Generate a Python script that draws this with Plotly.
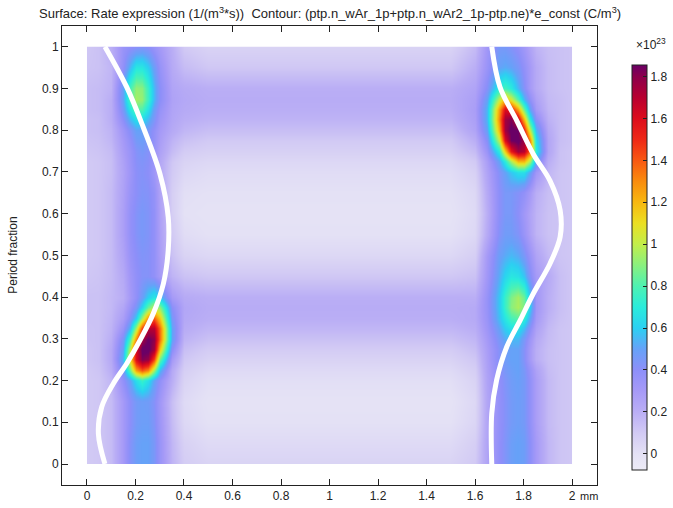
import plotly.graph_objects as go

# ---- data (values in units of 1e23 1/(m^3*s)) ----
x_mm = [0, 0.05, 0.1, 0.15, 0.175, 0.2, 0.225, 0.25, 0.275, 0.3, 0.35, 0.4, 0.5, 0.75, 1.0, 1.25, 1.5,
        1.6, 1.65, 1.7, 1.725, 1.75, 1.775, 1.8, 1.825, 1.85, 1.9, 1.95, 2.0]
y_frac = [0, 0.05, 0.1, 0.15, 0.2, 0.225, 0.25, 0.275, 0.3, 0.325, 0.35, 0.375, 0.4, 0.45, 0.5, 0.55,
          0.6, 0.65, 0.7, 0.725, 0.75, 0.775, 0.8, 0.825, 0.85, 0.875, 0.9, 0.95, 1.0]

rate = [
    [0.10, 0.11, 0.15, 0.30, 0.42, 0.48, 0.50, 0.50, 0.45, 0.35, 0.18, 0.09, 0.06, 0.06, 0.06, 0.06, 0.06, 0.10, 0.25, 0.38, 0.43, 0.48, 0.50, 0.48, 0.40, 0.30, 0.17, 0.12, 0.11],
    [0.10, 0.11, 0.15, 0.30, 0.42, 0.48, 0.50, 0.50, 0.45, 0.35, 0.17, 0.07, 0.03, 0.03, 0.03, 0.03, 0.03, 0.08, 0.25, 0.38, 0.43, 0.48, 0.50, 0.48, 0.40, 0.30, 0.17, 0.12, 0.11],
    [0.10, 0.11, 0.15, 0.30, 0.40, 0.46, 0.48, 0.48, 0.43, 0.33, 0.15, 0.04, 0.00, 0.00, 0.00, 0.00, 0.00, 0.05, 0.24, 0.37, 0.42, 0.46, 0.48, 0.46, 0.38, 0.28, 0.16, 0.12, 0.11],
    [0.10, 0.11, 0.15, 0.30, 0.40, 0.46, 0.48, 0.47, 0.42, 0.32, 0.14, 0.03, -0.01, -0.01, -0.01, -0.01, -0.01, 0.04, 0.24, 0.37, 0.42, 0.46, 0.48, 0.46, 0.38, 0.28, 0.16, 0.12, 0.11],
    [0.10, 0.11, 0.17, 0.38, 0.50, 0.65, 0.75, 0.65, 0.50, 0.38, 0.20, 0.06, 0.01, 0.01, 0.01, 0.01, 0.01, 0.06, 0.25, 0.38, 0.43, 0.47, 0.49, 0.46, 0.38, 0.28, 0.16, 0.12, 0.11],
    [0.10, 0.12, 0.20, 0.45, 0.85, 1.25, 1.40, 1.30, 0.95, 0.55, 0.22, 0.08, 0.03, 0.03, 0.03, 0.03, 0.03, 0.08, 0.26, 0.40, 0.45, 0.48, 0.50, 0.45, 0.36, 0.26, 0.15, 0.12, 0.11],
    [0.11, 0.13, 0.22, 0.55, 1.10, 1.60, 1.82, 1.78, 1.45, 0.85, 0.30, 0.11, 0.06, 0.06, 0.06, 0.06, 0.06, 0.11, 0.27, 0.42, 0.47, 0.50, 0.50, 0.42, 0.30, 0.20, 0.14, 0.12, 0.11],
    [0.11, 0.13, 0.22, 0.50, 1.00, 1.60, 1.88, 1.88, 1.75, 1.15, 0.40, 0.14, 0.09, 0.09, 0.09, 0.09, 0.09, 0.14, 0.28, 0.42, 0.47, 0.50, 0.50, 0.42, 0.30, 0.20, 0.14, 0.12, 0.11],
    [0.12, 0.13, 0.20, 0.45, 0.80, 1.30, 1.75, 1.86, 1.80, 1.35, 0.50, 0.18, 0.13, 0.13, 0.13, 0.13, 0.13, 0.17, 0.30, 0.45, 0.52, 0.55, 0.55, 0.45, 0.33, 0.22, 0.15, 0.12, 0.11],
    [0.12, 0.13, 0.18, 0.35, 0.55, 0.95, 1.45, 1.70, 1.70, 1.35, 0.50, 0.21, 0.17, 0.17, 0.17, 0.17, 0.17, 0.20, 0.33, 0.50, 0.60, 0.66, 0.66, 0.56, 0.40, 0.26, 0.16, 0.12, 0.11],
    [0.13, 0.13, 0.17, 0.28, 0.42, 0.60, 0.95, 1.30, 1.40, 1.15, 0.45, 0.23, 0.20, 0.20, 0.20, 0.20, 0.20, 0.22, 0.35, 0.56, 0.68, 0.78, 0.82, 0.72, 0.50, 0.30, 0.18, 0.13, 0.11],
    [0.13, 0.13, 0.16, 0.24, 0.35, 0.45, 0.62, 0.85, 1.00, 0.90, 0.40, 0.24, 0.21, 0.21, 0.21, 0.21, 0.21, 0.22, 0.36, 0.58, 0.75, 0.90, 0.96, 0.88, 0.60, 0.32, 0.20, 0.14, 0.11],
    [0.13, 0.13, 0.16, 0.20, 0.30, 0.38, 0.48, 0.60, 0.68, 0.58, 0.30, 0.22, 0.20, 0.20, 0.20, 0.20, 0.20, 0.20, 0.36, 0.58, 0.75, 0.88, 0.95, 0.85, 0.58, 0.32, 0.20, 0.14, 0.11],
    [0.11, 0.12, 0.15, 0.22, 0.32, 0.38, 0.42, 0.42, 0.38, 0.30, 0.18, 0.13, 0.11, 0.11, 0.11, 0.11, 0.11, 0.13, 0.32, 0.52, 0.62, 0.68, 0.66, 0.58, 0.42, 0.30, 0.22, 0.14, 0.11],
    [0.10, 0.11, 0.15, 0.25, 0.35, 0.40, 0.43, 0.42, 0.38, 0.28, 0.13, 0.06, 0.04, 0.04, 0.04, 0.04, 0.04, 0.08, 0.30, 0.48, 0.52, 0.55, 0.52, 0.45, 0.35, 0.25, 0.16, 0.12, 0.11],
    [0.10, 0.11, 0.15, 0.27, 0.37, 0.42, 0.45, 0.43, 0.38, 0.27, 0.10, 0.02, 0.00, 0.00, 0.00, 0.00, 0.00, 0.04, 0.22, 0.42, 0.47, 0.47, 0.43, 0.35, 0.26, 0.18, 0.13, 0.12, 0.11],
    [0.10, 0.11, 0.15, 0.27, 0.37, 0.42, 0.45, 0.43, 0.38, 0.26, 0.08, 0.00, -0.01, -0.01, -0.01, -0.01, -0.01, 0.03, 0.20, 0.40, 0.45, 0.45, 0.40, 0.32, 0.25, 0.18, 0.13, 0.12, 0.11],
    [0.10, 0.11, 0.15, 0.26, 0.35, 0.40, 0.43, 0.42, 0.37, 0.25, 0.08, 0.01, 0.00, 0.00, 0.00, 0.00, 0.00, 0.04, 0.22, 0.40, 0.45, 0.45, 0.42, 0.38, 0.30, 0.20, 0.14, 0.12, 0.11],
    [0.10, 0.11, 0.14, 0.25, 0.33, 0.40, 0.42, 0.40, 0.33, 0.22, 0.10, 0.04, 0.02, 0.02, 0.02, 0.02, 0.02, 0.07, 0.25, 0.42, 0.50, 0.58, 0.65, 0.65, 0.50, 0.32, 0.17, 0.12, 0.11],
    [0.10, 0.11, 0.14, 0.26, 0.34, 0.41, 0.43, 0.41, 0.34, 0.23, 0.11, 0.06, 0.04, 0.04, 0.04, 0.04, 0.04, 0.10, 0.28, 0.50, 0.70, 0.95, 1.20, 1.20, 0.95, 0.50, 0.20, 0.13, 0.11],
    [0.11, 0.12, 0.15, 0.28, 0.35, 0.42, 0.45, 0.42, 0.35, 0.26, 0.15, 0.09, 0.07, 0.07, 0.07, 0.07, 0.07, 0.15, 0.35, 0.70, 1.15, 1.55, 1.75, 1.70, 1.35, 0.70, 0.24, 0.13, 0.11],
    [0.12, 0.13, 0.17, 0.30, 0.38, 0.46, 0.48, 0.44, 0.37, 0.28, 0.18, 0.13, 0.10, 0.10, 0.10, 0.10, 0.10, 0.20, 0.42, 1.00, 1.60, 1.85, 1.88, 1.75, 1.30, 0.65, 0.24, 0.14, 0.12],
    [0.13, 0.14, 0.18, 0.33, 0.42, 0.50, 0.50, 0.45, 0.38, 0.30, 0.22, 0.17, 0.14, 0.14, 0.14, 0.14, 0.14, 0.25, 0.50, 1.20, 1.75, 1.88, 1.85, 1.55, 1.00, 0.55, 0.22, 0.14, 0.12],
    [0.13, 0.14, 0.20, 0.40, 0.55, 0.65, 0.64, 0.55, 0.44, 0.33, 0.24, 0.20, 0.18, 0.18, 0.18, 0.18, 0.18, 0.27, 0.55, 1.30, 1.75, 1.82, 1.65, 1.20, 0.70, 0.40, 0.19, 0.14, 0.12],
    [0.14, 0.15, 0.20, 0.46, 0.68, 0.82, 0.80, 0.66, 0.48, 0.36, 0.25, 0.22, 0.20, 0.20, 0.20, 0.20, 0.20, 0.28, 0.55, 1.25, 1.60, 1.55, 1.25, 0.85, 0.50, 0.30, 0.17, 0.14, 0.12],
    [0.14, 0.15, 0.20, 0.50, 0.80, 0.95, 0.92, 0.76, 0.55, 0.40, 0.26, 0.23, 0.21, 0.21, 0.21, 0.21, 0.21, 0.27, 0.50, 1.00, 1.20, 1.05, 0.80, 0.55, 0.38, 0.26, 0.16, 0.14, 0.12],
    [0.14, 0.15, 0.18, 0.50, 0.78, 0.92, 0.90, 0.75, 0.55, 0.40, 0.25, 0.22, 0.20, 0.20, 0.20, 0.20, 0.20, 0.25, 0.42, 0.70, 0.78, 0.70, 0.55, 0.42, 0.30, 0.22, 0.15, 0.13, 0.12],
    [0.12, 0.13, 0.17, 0.38, 0.55, 0.68, 0.68, 0.60, 0.48, 0.36, 0.22, 0.15, 0.11, 0.11, 0.11, 0.11, 0.11, 0.20, 0.35, 0.50, 0.52, 0.50, 0.45, 0.38, 0.30, 0.22, 0.15, 0.13, 0.12],
    [0.11, 0.13, 0.20, 0.35, 0.38, 0.40, 0.42, 0.40, 0.35, 0.30, 0.20, 0.10, 0.06, 0.06, 0.06, 0.06, 0.06, 0.15, 0.32, 0.45, 0.45, 0.42, 0.38, 0.32, 0.25, 0.18, 0.14, 0.13, 0.12],
]

# contour line (white), left and right branches
left_x = [0.074, 0.164, 0.232, 0.301, 0.335, 0.335, 0.315, 0.273, 0.219, 0.164, 0.109, 0.061, 0.047, 0.074]
left_y = [1.0, 0.903, 0.807, 0.695, 0.592, 0.512, 0.432, 0.360, 0.297, 0.241, 0.193, 0.137, 0.073, 0.0]
right_x = [1.669, 1.703, 1.772, 1.840, 1.909, 1.951, 1.951, 1.909, 1.840, 1.786, 1.731, 1.689, 1.669, 1.669]
right_y = [1.0, 0.903, 0.823, 0.743, 0.679, 0.608, 0.544, 0.480, 0.408, 0.344, 0.281, 0.201, 0.121, 0.0]

x_ticks = [0, 0.2, 0.4, 0.6, 0.8, 1, 1.2, 1.4, 1.6, 1.8, 2]
y_ticks = [0, 0.1, 0.2, 0.3, 0.4, 0.5, 0.6, 0.7, 0.8, 0.9, 1]
cbar_ticks = [0, 0.2, 0.4, 0.6, 0.8, 1, 1.2, 1.4, 1.6, 1.8]

title_text = ("Surface: Rate expression (1/(m<sup>3</sup>*s))  "
              "Contour: (ptp.n_wAr_1p+ptp.n_wAr2_1p-ptp.ne)*e_const (C/m<sup>3</sup>)")

c_min, c_max = -0.077, 1.855
scale_vals = [-0.077, 0.0, 0.1, 0.2, 0.3, 0.4, 0.5, 0.6, 0.7, 0.8, 0.9, 1.0, 1.1, 1.2, 1.3, 1.4, 1.5, 1.6, 1.7, 1.8, 1.855]
scale_cols = ["#ecebf6", "#e4e1f5", "#d2caf4", "#baaef5", "#a69af7", "#8d8ff9", "#66a2f8", "#2cd0f2",
              "#2aecdc", "#4ef2b2", "#8af07e", "#c2ee4a", "#ebdf22", "#f8b810", "#f98c0e", "#f85812",
              "#ee2816", "#dc0c1c", "#b80030", "#8c004c", "#6a0066"]
colorscale = [[(v - c_min) / (c_max - c_min), c] for v, c in zip(scale_vals, scale_cols)]

FONT = "Liberation Sans"

fig = go.Figure()
fig.add_trace(go.Heatmap(
    x=x_mm, y=y_frac, z=rate, zsmooth="best", colorscale=colorscale,
    zmin=c_min, zmax=c_max, hoverinfo="skip",
    colorbar=dict(
        thickness=15, len=425, lenmode="pixels",
        x=1.0467, xanchor="left", y=0.4739, yanchor="middle",
        outlinecolor="#222", outlinewidth=1,
        tickvals=cbar_ticks, ticktext=[f"{t:g}" for t in cbar_ticks],
        ticks="inside", ticklen=4, tickcolor="#222",
        tickfont=dict(family=FONT, size=12, color="#222"),
    ),
))
for xs, ys in ((left_x, left_y), (right_x, right_y)):
    fig.add_trace(go.Scatter(x=xs, y=ys, mode="lines",
                             line=dict(color="white", width=5, shape="spline", smoothing=1.0),
                             hoverinfo="skip", showlegend=False))

# white masks trimming the half-cell overshoot of the smoothed image to the 0..2 x 0..1 domain
mask = dict(type="rect", xref="x", yref="y", fillcolor="white", line=dict(width=0), layer="above")
shapes = [
    dict(mask, x0=-0.035, x1=0, y0=-0.035, y1=1.035),
    dict(mask, x0=2, x1=2.035, y0=-0.035, y1=1.035),
    dict(mask, x0=-0.035, x1=2.035, y0=-0.035, y1=0),
    dict(mask, x0=-0.035, x1=2.035, y0=1, y1=1.035),
]

axis_common = dict(showline=True, linecolor="#222", linewidth=1, mirror="ticks", ticks="inside",
                   ticklen=6, tickcolor="#222", showgrid=False, zeroline=False,
                   tickfont=dict(family=FONT, size=12, color="#222"))
fig.update_xaxes(range=[-0.103, 2.103], tickvals=x_ticks, ticktext=[f"{t:g}" for t in x_ticks], **axis_common)
fig.update_yaxes(range=[-0.0503, 1.0496], tickvals=y_ticks, ticktext=[f"{t:g}" for t in y_ticks], **axis_common)

fig.update_layout(
    width=673, height=508,
    margin=dict(l=62, r=76, t=26, b=23, autoexpand=False),
    plot_bgcolor="white", paper_bgcolor="white",
    showlegend=False,
    shapes=shapes,
    font=dict(family=FONT, size=12, color="#222"),
    annotations=[
        dict(text=title_text, xref="paper", yref="paper",
             x=0.5, y=(485 - 13) / 459, xanchor="center", yanchor="middle", showarrow=False,
             font=dict(family=FONT, size=13, color="#222")),
        dict(text="Period fraction", textangle=-90, xref="paper", yref="paper",
             x=-0.093, y=0.5, xanchor="center", yanchor="middle", showarrow=False,
             font=dict(family=FONT, size=12, color="#222")),
        dict(text="mm", xref="paper", yref="paper", x=(578 - 62) / 535, y=-0.006,
             xanchor="left", yanchor="top", showarrow=False,
             font=dict(family=FONT, size=11, color="#222")),
        dict(text="×10<sup>23</sup>", xref="paper", yref="paper", x=(651 - 62) / 535, y=(485 - 44) / 459,
             xanchor="center", yanchor="middle", showarrow=False,
             font=dict(family=FONT, size=12, color="#222")),
    ],
)

fig.write_html("out.html", config={"displayModeBar": False},
               post_script="document.body.style.margin='0';document.body.style.padding='0';"
                           "document.body.style.overflow='hidden';")
